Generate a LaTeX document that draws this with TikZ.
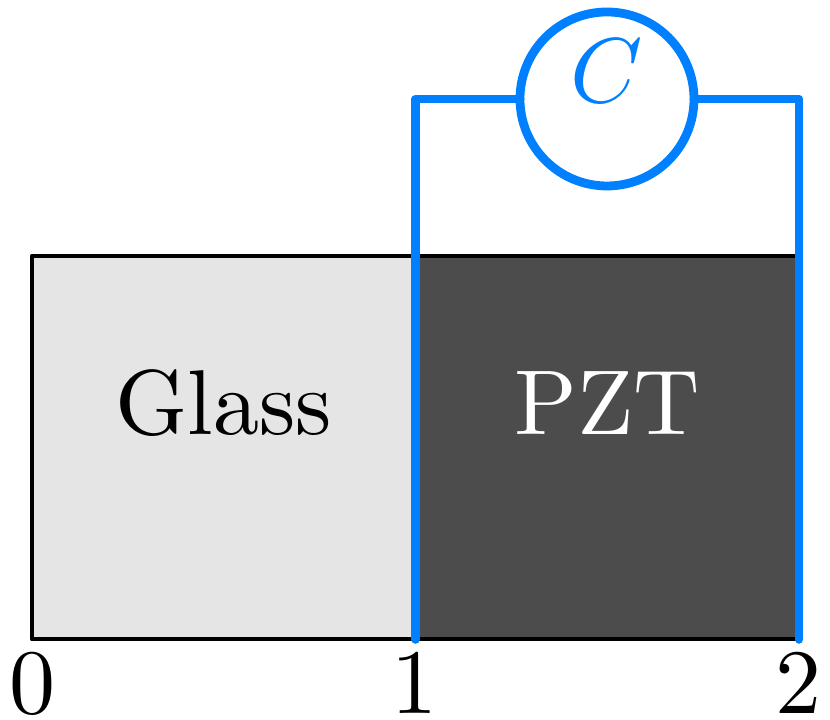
\documentclass[tikz,border=0pt]{standalone}
\usepackage{amsmath}
\usepackage{tikz}
\usetikzlibrary{positioning}
\definecolor{wire}{RGB}{0,128,255}
\newcommand{\biglab}[2]{\raisebox{#1}[0pt][0pt]{\scalebox{2.62}{#2}}}
\tikzset{
  block/.style={draw=black,line width=1.2pt,line join=round,minimum width=3.835cm,minimum height=3.835cm,inner sep=0pt,outer sep=0pt},
  tick/.style={scale=2.62,inner sep=0pt},
  lead/.style={draw=wire,line width=2.5pt,line join=round,line cap=round},
}
\begin{document}
\begin{tikzpicture}[x=1cm,y=1cm]
  \useasboundingbox (0,0) rectangle (8.3,7.2);
  \node[block,fill=black!10] (glass) at (2.2375,2.7235) {\biglab{3.7pt}{Glass}};
  \node[block,fill=black!70,text=white,right = 0cm of glass] (pzt) {\biglab{3.7pt}{PZT}};
  \node[tick] (t0) at (0.325,0.36) {$0$};
  \node[tick] (t1) at (4.15,0.36) {$1$};
  \node[tick] (t2) at (7.99,0.36) {$2$};
  \node[circle,draw=wire,line width=2.5pt,minimum size=1.74cm,inner sep=0pt,outer sep=0pt,text=wire] (cap) at (6.07,6.21) {\biglab{-0.9pt}{$C$}};
  \coordinate (lt) at (pzt.north west |- cap.west);
  \coordinate (rt) at (pzt.north east |- cap.east);
  \draw[lead] (cap.west) -- (lt) -- (pzt.south west);
  \draw[lead] (cap.east) -- (rt) -- (pzt.south east);
\end{tikzpicture}
\end{document}
